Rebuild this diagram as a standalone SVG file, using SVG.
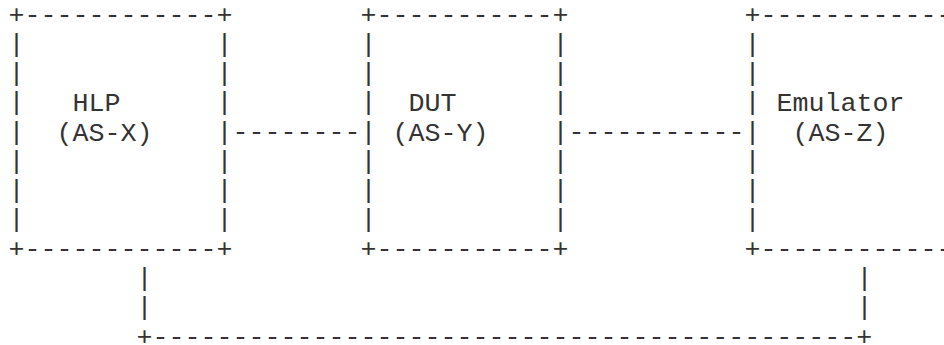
<svg xmlns="http://www.w3.org/2000/svg" width="944" height="345" viewBox="0 0 944 345">
<style>
text{font-family:"Liberation Mono","DejaVu Sans Mono",monospace;font-size:26.667px;fill:#333;white-space:pre}
</style>
<rect width="944" height="345" fill="#fff"/>
<g id="hlp">
<text x="8.5" y="22.5">+------------+</text>
<text x="8.5" y="51.8">|</text><text x="216.5" y="51.8">|</text>
<text x="8.5" y="81">|</text><text x="216.5" y="81">|</text>
<text x="8.5" y="110.3">|</text><text x="72.5" y="111.3">HLP</text><text x="216.5" y="110.3">|</text>
<text x="8.5" y="139.6">|</text><text x="56.5" y="140.6">(AS-X)</text><text x="216.5" y="139.6">|</text>
<text x="8.5" y="168.9">|</text><text x="216.5" y="168.9">|</text>
<text x="8.5" y="198.1">|</text><text x="216.5" y="198.1">|</text>
<text x="8.5" y="227.4">|</text><text x="216.5" y="227.4">|</text>
<text x="8.5" y="256.7">+------------+</text>
</g>
<g id="dut">
<text x="360.5" y="22.5">+-----------+</text>
<text x="360.5" y="51.8">|</text><text x="552.5" y="51.8">|</text>
<text x="360.5" y="81">|</text><text x="552.5" y="81">|</text>
<text x="360.5" y="110.3">|</text><text x="408.5" y="111.3">DUT</text><text x="552.5" y="110.3">|</text>
<text x="360.5" y="139.6">|</text><text x="392.5" y="140.6">(AS-Y)</text><text x="552.5" y="139.6">|</text>
<text x="360.5" y="168.9">|</text><text x="552.5" y="168.9">|</text>
<text x="360.5" y="198.1">|</text><text x="552.5" y="198.1">|</text>
<text x="360.5" y="227.4">|</text><text x="552.5" y="227.4">|</text>
<text x="360.5" y="256.7">+-----------+</text>
</g>
<g id="emulator">
<text x="744.5" y="22.5">+------------</text>
<text x="744.5" y="51.8">|</text>
<text x="744.5" y="81">|</text>
<text x="744.5" y="110.3">|</text><text x="776.5" y="111.3">Emulator</text>
<text x="744.5" y="139.6">|</text><text x="792.5" y="140.6">(AS-Z)</text>
<text x="744.5" y="168.9">|</text>
<text x="744.5" y="198.1">|</text>
<text x="744.5" y="227.4">|</text>
<text x="744.5" y="256.7">+------------</text>
</g>
<g id="connectors">
<text x="232.5" y="139.6">--------</text>
<text x="568.5" y="139.6">-----------</text>
<text x="136.5" y="285.9">|</text>
<text x="136.5" y="315.2">|</text>
<text x="856.5" y="285.9">|</text>
<text x="856.5" y="315.2">|</text>
<text x="136.5" y="344.5">+--------------------------------------------+</text>
</g>
</svg>
